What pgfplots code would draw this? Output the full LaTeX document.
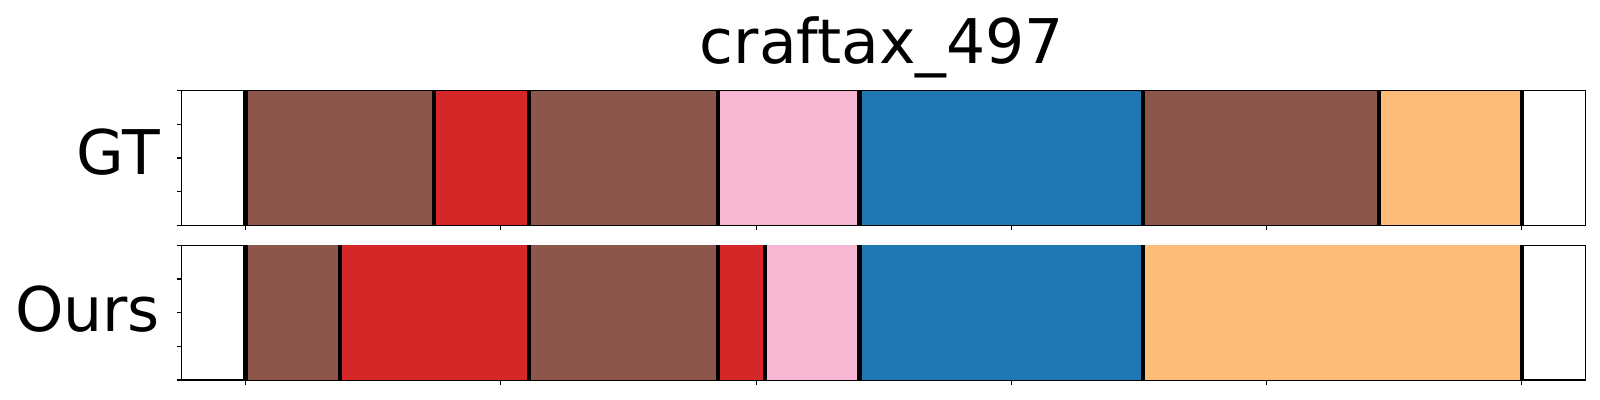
\documentclass[border=0pt]{standalone}
\usepackage{fontspec}
\setmainfont{DejaVu Sans}
\usepackage{pgfplots}
\pgfplotsset{compat=1.18}
\definecolor{tbrown}{HTML}{8C564B}
\definecolor{tred}{HTML}{D62728}
\definecolor{tpink}{HTML}{F7B6D2}
\definecolor{tblue}{HTML}{1F77B4}
\definecolor{torange}{HTML}{FFBB78}
\pgfplotsset{
  seg/.style={scale only axis, width=702pt, height=67.3pt,
    xmin=-5, xmax=105, ymin=0, ymax=1,
    xtick={0,20,40,60,80,100}, ytick={0,0.25,0.5,0.75,1},
    xticklabels={}, yticklabels={},
    xtick pos=left, ytick pos=left, tick align=outside,
    major tick length=2.5pt,
    axis line style={line width=0.55pt},
    every tick/.style={black, line width=0.55pt},
    anchor=south west},
}
\newcommand{\seg}[3]{\addplot[fill=#3, draw=none] coordinates {(#1,0) (#2,0) (#2,1) (#1,1)} --cycle;}
\newcommand{\bnd}[1]{\addplot[black, line width=2.2pt] coordinates {(#1,0) (#1,1)};}
\begin{document}
\begin{tikzpicture}
\useasboundingbox (0,0) rectangle (800pt,200pt);
\fontsize{30.8pt}{37pt}\selectfont
% GT
\begin{axis}[seg, at={(90.85pt,87.35pt)}]
\seg{0}{14.76}{tbrown}
\seg{14.76}{22.2}{tred}
\seg{22.2}{37.0}{tbrown}
\seg{37.0}{48.1}{tpink}
\seg{48.1}{70.3}{tblue}
\seg{70.3}{88.8}{tbrown}
\seg{88.8}{100}{torange}
\bnd{0}\bnd{14.76}\bnd{22.2}\bnd{37.0}\bnd{48.1}\bnd{70.3}\bnd{88.8}\bnd{100}
\end{axis}
% Ours
\begin{axis}[seg, at={(90.85pt,10pt)}]
\seg{0}{7.4}{tbrown}
\seg{7.4}{22.2}{tred}
\seg{22.2}{37.0}{tbrown}
\seg{37.0}{40.7}{tred}
\seg{40.7}{48.1}{tpink}
\seg{48.1}{70.3}{tblue}
\seg{70.3}{100}{torange}
\bnd{0}\bnd{7.4}\bnd{22.2}\bnd{37.0}\bnd{40.7}\bnd{48.1}\bnd{70.3}\bnd{100}
\end{axis}
\node[anchor=base] at (441pt,168.35pt) {craftax\_497};
\node[anchor=base east, inner sep=0pt] at (80.2pt,112.5pt) {GT};
\node[anchor=base east, inner sep=0pt] at (80.2pt,34.15pt) {Ours};
\end{tikzpicture}
\end{document}
